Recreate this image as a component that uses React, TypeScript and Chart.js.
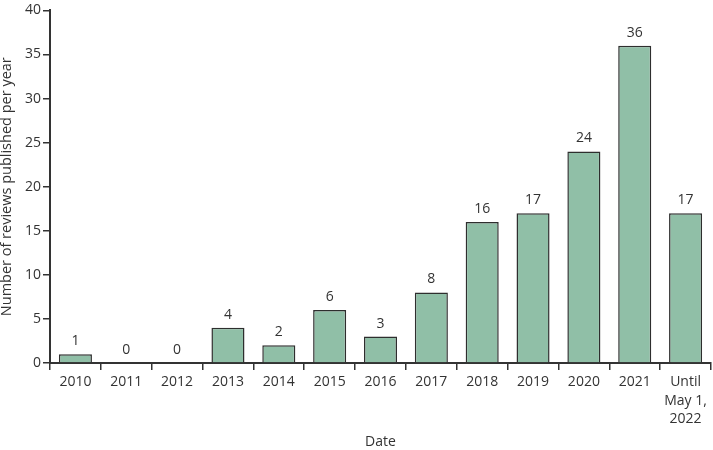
import React, { useEffect, useRef } from "react";
import { Chart, registerables } from "chart.js";

Chart.register(...registerables);

const categories: (string | string[])[] = [
  "2010", "2011", "2012", "2013", "2014", "2015", "2016", "2017", "2018", "2019", "2020", "2021",
  ["Until", "May 1,", "2022"],
];
const reviewCounts = [1, 0, 0, 4, 2, 6, 3, 8, 16, 17, 24, 36, 17];
const yTickMin = 0;
const yTickMax = 40;
const yTickStep = 5;

const FONT = "'Open Sans', 'Noto Sans', sans-serif";
const INK = "#333333";

const valueLabels = {
  id: "valueLabels",
  afterDatasetsDraw(chart: any) {
    const ctx = chart.ctx;
    const meta = chart.getDatasetMeta(0);
    const data = chart.data.datasets[0].data as number[];
    ctx.save();
    ctx.font = `14px ${FONT}`;
    ctx.fillStyle = INK;
    ctx.textAlign = "center";
    ctx.textBaseline = "middle";
    meta.data.forEach((el: any, i: number) => {
      ctx.fillText(String(data[i]), el.x, el.y - 13);
    });
    ctx.restore();
  },
};

export default function App() {
  const ref = useRef<HTMLCanvasElement>(null);
  useEffect(() => {
    if (!ref.current) return;
    const chart = new Chart(ref.current, {
      type: "bar",
      data: {
        labels: categories,
        datasets: [
          {
            data: reviewCounts,
            backgroundColor: "#90bfa7",
            borderColor: "#2e2e2e",
            borderWidth: 1.5,
            barPercentage: 0.65,
            categoryPercentage: 1,
          },
        ],
      },
      options: {
        animation: false,
        responsive: false,
        maintainAspectRatio: false,
        layout: { padding: { top: 5, right: 2, left: 0, bottom: 0 } },
        plugins: { legend: { display: false }, tooltip: { enabled: false } },
        scales: {
          x: {
            grid: {
              offset: true,
              drawOnChartArea: false,
              drawTicks: true,
              tickLength: 7,
              color: INK,
              lineWidth: 1.5,
            },
            border: { display: true, color: INK, width: 2 },
            ticks: {
              color: INK,
              font: { family: FONT, size: 14, lineHeight: 1.32 },
              padding: 3,
              maxRotation: 0,
              autoSkip: false,
            },
            title: {
              display: true,
              text: "Date",
              color: INK,
              font: { family: FONT, size: 14 },
              padding: { top: 4, bottom: 0 },
            },
            afterFit: (scale: any) => {
              scale.height = 87;
            },
          },
          y: {
            min: yTickMin,
            max: yTickMax,
            grid: {
              drawOnChartArea: false,
              drawTicks: true,
              tickLength: 7,
              color: INK,
              lineWidth: 1.5,
            },
            border: { display: true, color: INK, width: 2 },
            ticks: {
              stepSize: yTickStep,
              color: INK,
              font: { family: FONT, size: 14 },
              padding: 2,
            },
            title: {
              display: true,
              text: "Number of reviews published per year",
              color: INK,
              font: { family: FONT, size: 14.5, lineHeight: 1.0 },
              padding: 0,
            },
            afterFit: (scale: any) => {
              scale.width = 50;
            },
          },
        },
      },
      plugins: [valueLabels],
    });
    return () => chart.destroy();
  }, []);
  return (
    <div style={{ position: "fixed", left: 0, top: 0, width: 713, height: 450, background: "#fff" }}>
      <canvas ref={ref} width={713} height={450} style={{ width: 713, height: 450 }} />
    </div>
  );
}
